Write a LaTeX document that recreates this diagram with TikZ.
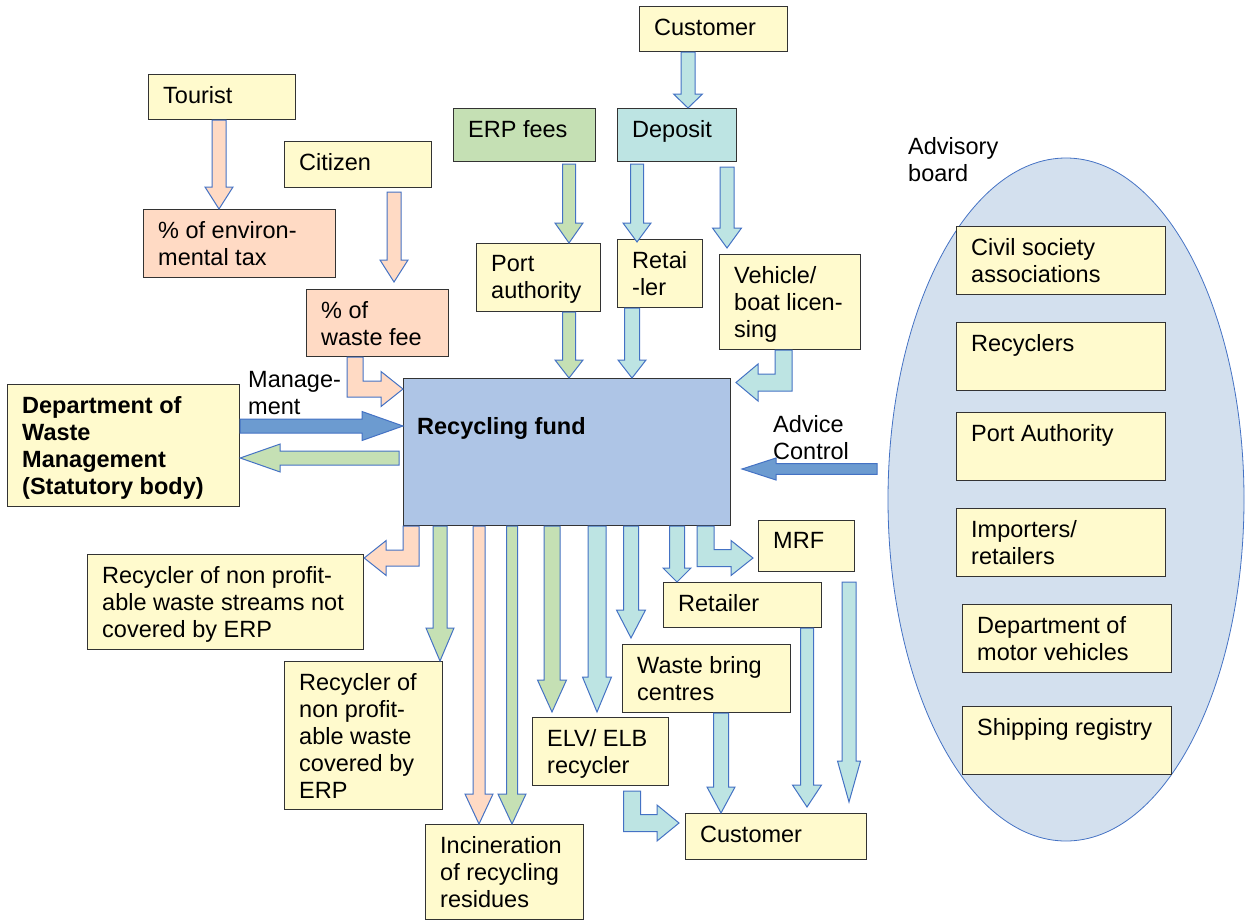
\documentclass[tikz,border=0pt]{standalone}
\usepackage{fontspec}
\setmainfont{Liberation Sans}
\usetikzlibrary{shapes.geometric,calc}

\definecolor{boxyellow}{RGB}{255,250,205}
\definecolor{peach}{RGB}{255,218,196}
\definecolor{leaf}{RGB}{197,224,180}
\definecolor{aqua}{RGB}{189,228,227}
\definecolor{fundblue}{RGB}{174,197,230}
\definecolor{boardblue}{RGB}{211,224,238}
\definecolor{deepblue}{RGB}{108,155,208}
\definecolor{edgeblue}{RGB}{68,114,196}
\definecolor{boxedge}{RGB}{51,51,51}

\tikzset{
  box/.style={rectangle, draw=boxedge, line width=1.2pt, inner sep=0pt, anchor=north west},
  boxtext/.style={inner sep=0pt, anchor=north west, align=left,
                  font=\fontsize{23.5}{27}\selectfont},
  flow/.style={draw=edgeblue, line width=1pt, line join=miter},
  peachflow/.style={flow, fill=peach},
  leafflow/.style={flow, fill=leaf},
  aquaflow/.style={flow, fill=aqua},
  deepflow/.style={flow, fill=deepblue},
}

% box with its text set in the upper left corner
% [text style] name, left, top, right, bottom, fill, text
\newcommand\flowbox[8][]{%
  \node[box, fill=#7, minimum width={(#5-#3)*1pt}, minimum height={(#6-#4)*1pt}] (#2) at (#3,#4) {};
  \node[boxtext, #1] (#2-text) at ($(#2.north west)+(15,12.5)$) {#8};
}

% straight block arrow: style, tail, tip, half shaft, half head, head length
\newcommand\flowarrow[6]{%
  \path[#1] let \p1=(#2), \p2=(#3),
    \n1={veclen(\x2-\x1,\y2-\y1)}, \n2={(\x2-\x1)/\n1}, \n3={(\y2-\y1)/\n1} in
    ({\x1-#4*\n3},{\y1+#4*\n2})
    -- ({\x2-#6*\n2-#4*\n3},{\y2-#6*\n3+#4*\n2})
    -- ({\x2-#6*\n2-#5*\n3},{\y2-#6*\n3+#5*\n2})
    -- (\x2,\y2)
    -- ({\x2-#6*\n2+#5*\n3},{\y2-#6*\n3-#5*\n2})
    -- ({\x2-#6*\n2+#4*\n3},{\y2-#6*\n3-#4*\n2})
    -- ({\x1+#4*\n3},{\y1-#4*\n2}) -- cycle;
}

% block arrow going down, then sideways: style, tail, tip, half shaft, half head, head length
\newcommand\bentflow[6]{%
  \path[#1] let \p1=(#2), \p2=(#3), \n1={sign(\x2-\x1)} in
    ({\x1-\n1*#4},\y1) -- ({\x1-\n1*#4},{\y2-#4})
    -- ({\x2-\n1*#6},{\y2-#4}) -- ({\x2-\n1*#6},{\y2-#5})
    -- (\x2,\y2)
    -- ({\x2-\n1*#6},{\y2+#5}) -- ({\x2-\n1*#6},{\y2+#4})
    -- ({\x1+\n1*#4},{\y2+#4}) -- ({\x1+\n1*#4},\y1) -- cycle;
}

\begin{document}
\begin{tikzpicture}[x=1pt, y=-1pt]
\useasboundingbox (0,0) rectangle (1245,921);

% advisory board
\node[ellipse, draw=edgeblue, fill=boardblue, line width=0.8pt, inner sep=0pt,
      minimum width=356pt, minimum height=683pt] (board) at (1066,499.5) {};
\node[boxtext] (boardlabel) at (908,137) {Advisory\\board};
\flowbox{civil}{956}{226}{1165}{294}{boxyellow}{Civil society\\associations}
\flowbox{recyclers}{956}{322}{1165}{390}{boxyellow}{Recyclers}
\flowbox{portauth}{956}{412}{1165}{480}{boxyellow}{Port Authority}
\flowbox{importers}{956}{508}{1165}{576}{boxyellow}{Importers/\\retailers}
\flowbox{dmv}{962}{604}{1171}{672}{boxyellow}{Department of\\motor vehicles}
\flowbox{shipping}{962}{706}{1171}{774}{boxyellow}{Shipping registry}

% sources of money
\flowbox{tourist}{148}{74}{295}{119}{boxyellow}{Tourist}
\flowbox{citizen}{284}{141}{431}{187}{boxyellow}{Citizen}
\flowbox{envtax}{143}{209}{335}{277}{peach}{\% of environ-\\mental tax}
\flowbox{wastefee}{306}{289}{448}{356}{peach}{\% of\\waste fee}
\flowbox{custtop}{639}{6}{787}{51}{boxyellow}{Customer}
\flowbox{erp}{453}{108}{595}{161}{leaf}{ERP fees}
\flowbox{deposit}{617}{108}{736}{161}{aqua}{Deposit}
\flowbox{port}{476}{243}{600}{311}{boxyellow}{Port\\authority}
\flowbox{retai}{617}{239}{702}{307}{boxyellow}{Retai\\-ler}
\flowbox{vehicle}{719}{254}{860}{349}{boxyellow}{Vehicle/\\boat licen-\\sing}

% management
\flowbox[font=\fontsize{23.5}{27}\selectfont\bfseries]{dwm}{7}{384}{239}{506}{boxyellow}%
  {Department of\\Waste\\Management\\(Statutory body)}
\node[boxtext] (mgmtlabel) at (248,371) {Manage-\\ment};
\node[boxtext] (advicelabel) at (773,415) {Advice\\Control};

% the fund
\node[box, fill=fundblue, minimum width=327pt, minimum height=147pt] (fund) at (403,378) {};
\node[boxtext, font=\fontsize{23.5}{27}\selectfont\bfseries] (fund-text) at (417,417) {Recycling fund};

% receivers of money
\flowbox{recnot}{87}{554}{363}{649}{boxyellow}{Recycler of non profit-\\able waste streams not\\covered by ERP}
\flowbox{recerp}{284}{661}{442}{809}{boxyellow}{Recycler of\\non profit-\\able waste\\covered by\\ERP}
\flowbox{incin}{425}{824}{583}{919}{boxyellow}{Incineration\\of recycling\\residues}
\flowbox{elv}{532}{717}{668}{785}{boxyellow}{ELV/ ELB\\recycler}
\flowbox{bring}{622}{644}{790}{712}{boxyellow}{Waste bring\\centres}
\flowbox{retlow}{663}{582}{821}{627}{boxyellow}{Retailer}
\flowbox{mrf}{758}{520}{854}{571}{boxyellow}{MRF}
\flowbox{custlow}{685}{813}{866}{859}{boxyellow}{Customer}

% flows into the fund
\flowarrow{peachflow}{219,0|-tourist.south}{219,0|-envtax.north}{7}{14}{22}
\flowarrow{peachflow}{394,192}{394,282}{7}{14}{22}
\bentflow{peachflow}{355,0|-wastefee.south}{fund.west|-0,389}{8}{17.5}{22}
\flowarrow{aquaflow}{688,0|-custtop.south}{688,0|-deposit.north}{7}{14.5}{14}
\flowarrow{leafflow}{569,164}{569,0|-port.north}{6.5}{14}{20}
\flowarrow{aquaflow}{637,164}{637,242}{6.5}{14}{19}
\flowarrow{aquaflow}{727,167}{727,248}{7}{14.5}{20}
\flowarrow{leafflow}{569,0|-port.south}{569,0|-fund.north}{6.5}{14}{18}
\flowarrow{aquaflow}{632,0|-retai.south}{632,0|-fund.north}{7.5}{14}{18}
\bentflow{aquaflow}{783.5,0|-vehicle.south}{736,382.5}{8.5}{18.5}{22}

% management and advice
\flowarrow{deepflow}{dwm.east|-0,426}{fund.west|-0,426}{7}{14.5}{41}
\flowarrow{leafflow}{399,458}{dwm.east|-0,458}{7}{14}{40}
\flowarrow{deepflow}{877,469}{742,469}{5.3}{11}{34}

% flows out of the fund
\bentflow{peachflow}{411,0|-fund.south}{recnot.east|-0,558}{8}{17.5}{22}
\flowarrow{leafflow}{440,0|-fund.south}{440,0|-recerp.north}{7}{14}{33}
\flowarrow{peachflow}{479,0|-fund.south}{479,0|-incin.north}{6}{14}{30}
\flowarrow{leafflow}{512,0|-fund.south}{512,0|-incin.north}{5.5}{14}{30}
\flowarrow{leafflow}{552,0|-fund.south}{552,712}{8}{14.5}{32}
\flowarrow{aquaflow}{597,0|-fund.south}{597,712}{9}{14.5}{35}
\flowarrow{aquaflow}{631,0|-fund.south}{631,638}{7.5}{14.5}{28}
\flowarrow{aquaflow}{677,0|-fund.south}{677,0|-retlow.north}{7.5}{14}{14}
\bentflow{aquaflow}{705.5,0|-fund.south}{753,558}{8.5}{17.5}{22}

% deposit refunds to the customer
\flowarrow{aquaflow}{721,0|-bring.south}{721,0|-custlow.north}{7.5}{14}{26}
\flowarrow{aquaflow}{807,0|-retlow.south}{807,807}{6.5}{14.5}{22}
\flowarrow{aquaflow}{849,582}{849,802}{7}{11.5}{41}
\bentflow{aquaflow}{632,791}{679,823}{8.5}{18}{22}

\end{tikzpicture}
\end{document}
